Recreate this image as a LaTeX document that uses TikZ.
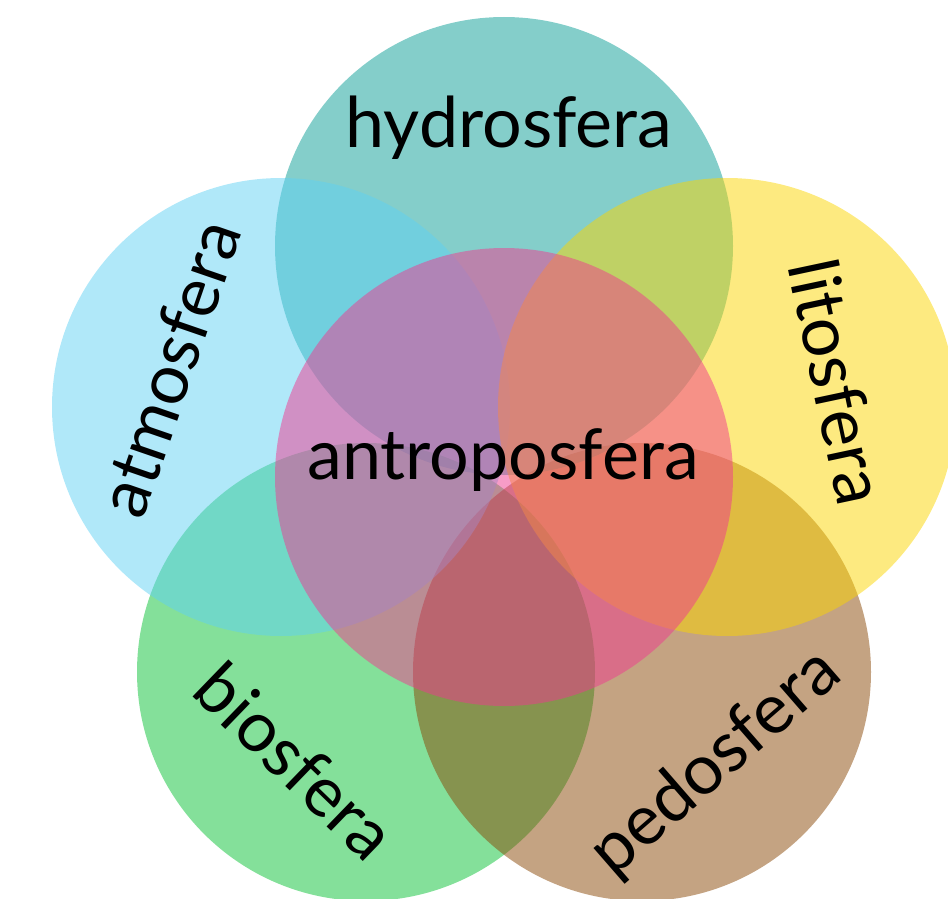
\documentclass[tikz,border=0pt]{standalone}
\usepackage{fontspec}
\setmainfont{Lato}
\definecolor{chydro}{RGB}{9,157,149}
\definecolor{catmos}{RGB}{97,209,243}
\definecolor{clito}{RGB}{251,213,1}
\definecolor{cbios}{RGB}{9,193,53}
\definecolor{cpedo}{RGB}{137,71,5}
\definecolor{cantro}{RGB}{240,58,144}
\tikzset{
  sphere/.style={circle, draw=none, inner sep=0pt, minimum size=458pt, fill=#1, fill opacity=0.5},
  lbl/.style={inner sep=0pt, text=black, font=\fontsize{70}{82}\selectfont}
}
\begin{document}
\begin{tikzpicture}[x=1pt,y=-1pt]
\useasboundingbox (0,0) rectangle (948,899);
\clip (0,0) rectangle (948,899);
\node[sphere=cbios]  (bios)  at (366,672) {};
\node[sphere=cpedo]  (pedo)  at (642,672) {};
\node[sphere=chydro] (hydro) at (504,246) {};
\node[sphere=catmos] (atmos) at (281,407) {};
\node[sphere=clito]  (lito)  at (727,407) {};
\node[sphere=cantro] (antro) at (504,477) {};
\node[lbl] (thydro) at (509,128) {hydrosfera};
\node[lbl] (tantro) at (503,460) {antroposfera};
\node[lbl, rotate=71] (tatmos) at (169,368) {atmosfera};
\node[lbl, rotate=-78] (tlito) at (838,382) {litosfera};
\node[lbl, rotate=-44] (tbios) at (296,761) {biosfera};
\node[lbl, rotate=41] (tpedo) at (716,763) {pedosfera};
\end{tikzpicture}
\end{document}
